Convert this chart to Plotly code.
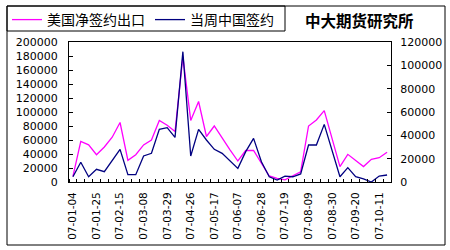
import plotly.graph_objects as go

dates = ["07-01-04", "07-01-11", "07-01-18", "07-01-25", "07-02-01", "07-02-08", "07-02-15",
         "07-02-22", "07-03-01", "07-03-08", "07-03-15", "07-03-22", "07-03-29", "07-04-05",
         "07-04-19", "07-04-26", "07-05-03", "07-05-10", "07-05-17", "07-05-24", "07-05-31",
         "07-06-07", "07-06-14", "07-06-21", "07-06-28", "07-07-05", "07-07-12", "07-07-19",
         "07-07-26", "07-08-02", "07-08-09", "07-08-16", "07-08-23", "07-08-30", "07-09-06",
         "07-09-13", "07-09-20", "07-09-27", "07-10-04", "07-10-11", "07-10-18"]

us_net_sales = [8000, 58000, 53000, 39000, 50000, 64000, 85000, 31000, 39000, 53000, 60000,
                88000, 81000, 72000, 179000, 88000, 115000, 65000, 80000, 62000, 46000,
                30000, 45000, 45000, 27000, 8600, 5200, 3000, 9000, 14700, 80000, 88600,
                102000, 60000, 22000, 39500, 31400, 22000, 32400, 34700, 42400]

china_sales = [4500, 16900, 4500, 10900, 8800, 18000, 28000, 6300, 6300, 22300, 24600,
               45100, 46600, 38300, 111700, 22300, 45100, 36000, 28000, 24600, 18000,
               11700, 26000, 37400, 17400, 4500, 1700, 5100, 4500, 6900, 31700, 31700,
               49400, 26000, 4500, 12300, 4500, 2600, 0, 5100, 6000]

series_names = ["美国净签约出口", "当周中国签约"]
left_ticks = list(range(0, 200001, 20000))
right_ticks = list(range(0, 120001, 20000))

x = list(range(len(dates)))
label_idx = list(range(0, len(dates), 3))

W, H = 450, 250
L, R, T, B = 69, 391, 42, 182
pw, ph = R - L, B - T

def px(xp):
    return (xp - L) / pw

def py(yp):
    return (B - yp) / ph

fig = go.Figure()
fig.add_trace(go.Scatter(x=x, y=us_net_sales, name=series_names[0], mode="lines",
                         line=dict(color="#FF00FF", width=1.3), yaxis="y"))
fig.add_trace(go.Scatter(x=x, y=china_sales, name=series_names[1], mode="lines",
                         line=dict(color="#000080", width=1.3), yaxis="y2"))

tickfont = dict(family="DejaVu Sans", size=11, color="black")

fig.update_layout(
    width=W, height=H,
    margin=dict(l=L, r=W - R, t=T, b=H - B, autoexpand=False),
    paper_bgcolor="white", plot_bgcolor="white",
    showlegend=True,
    legend=dict(orientation="h", xref="container", yref="container",
                x=7 / W, y=1 - 4 / H, xanchor="left", yanchor="top",
                borderwidth=0, bgcolor="rgba(0,0,0,0)",
                font=dict(family="Noto Sans CJK SC", size=14, color="black"),
                itemwidth=30, tracegroupgap=0),
    xaxis=dict(range=[-0.5, len(dates) - 0.5], tickmode="array",
               tickvals=[x[i] for i in label_idx], ticktext=[dates[i] for i in label_idx],
               tickangle=-90, ticks="", showline=True, linecolor="black", linewidth=1,
               mirror=True, showgrid=False, zeroline=False,
               tickfont=dict(family="DejaVu Sans", size=10.5, color="black"),
               ticklabelstandoff=5,
               minor=dict(tickmode="linear", tick0=-0.5, dtick=1, ticks="inside",
                          ticklen=3, tickcolor="black", showgrid=False)),
    yaxis=dict(range=[0, 200000], tickmode="array", tickvals=left_ticks,
               tickformat="d", ticks="inside", ticklen=4, tickcolor="black",
               showline=True, linecolor="black", linewidth=1, showgrid=False,
               zeroline=False, tickfont=tickfont, ticklabelstandoff=8),
    yaxis2=dict(range=[0, 120000], tickmode="array", tickvals=right_ticks,
                tickformat="d", overlaying="y", side="right", ticks="inside",
                ticklen=4, tickcolor="black", showline=True, linecolor="black",
                linewidth=1, showgrid=False, zeroline=False, tickfont=tickfont,
                ticklabelstandoff=6),
)

# outer frame
fig.add_shape(type="rect", xref="paper", yref="paper",
              x0=px(7), x1=px(445), y0=py(245), y1=py(6),
              line=dict(color="black", width=1), fillcolor="rgba(0,0,0,0)", layer="above")
# legend box
fig.add_shape(type="rect", xref="paper", yref="paper",
              x0=px(7), x1=px(285), y0=py(31), y1=py(6),
              line=dict(color="black", width=1), fillcolor="rgba(0,0,0,0)", layer="above")

fig.add_annotation(text="<b>中大期货研究所</b>", xref="paper", yref="paper",
                   x=px(359), y=py(20), xanchor="center", yanchor="middle",
                   showarrow=False,
                   font=dict(family="Noto Sans CJK SC", size=15.5, color="black"))

fig.write_html("out.html")
